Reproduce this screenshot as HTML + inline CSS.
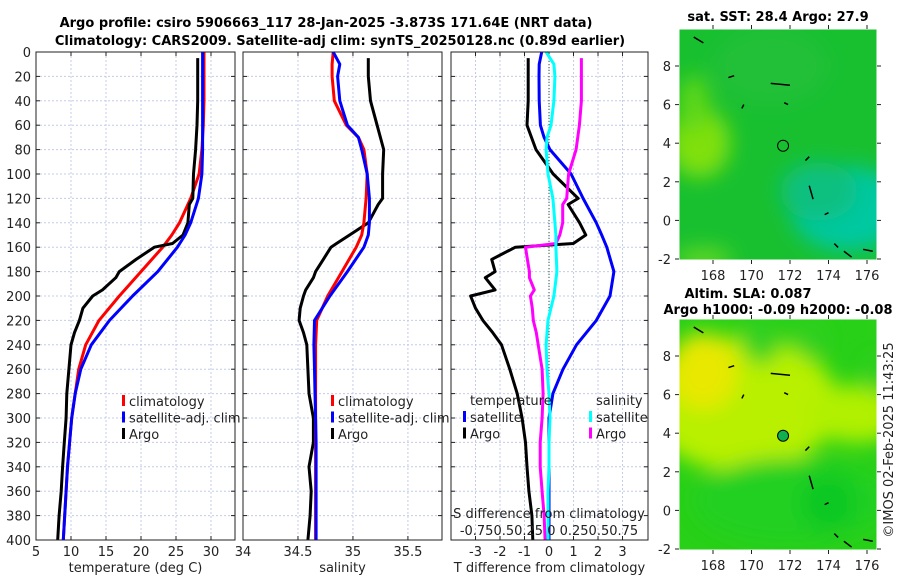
<!DOCTYPE html>
<html><head><meta charset="utf-8"><style>
html,body{margin:0;padding:0;background:#fff;}
svg{display:block;font-family:"DejaVu Sans","Liberation Sans",sans-serif;}
</style></head><body>
<svg id="fig" width="900" height="580" viewBox="0 0 900 580" xmlns="http://www.w3.org/2000/svg">
<defs>
<filter id="blur" x="-50%" y="-50%" width="200%" height="200%"><feGaussianBlur stdDeviation="10"/></filter>
<clipPath id="m1clip"><rect x="679" y="29" width="198" height="231"/></clipPath>
<clipPath id="m2clip"><rect x="679" y="319" width="198" height="231"/></clipPath>
</defs>
<g font-weight="bold" font-size="13" text-anchor="middle" fill="#000">
<text x="326" y="27">Argo profile: csiro 5906663_117 28-Jan-2025 -3.873S 171.64E (NRT data)</text>
<text x="340" y="45">Climatology: CARS2009. Satellite-adj clim: synTS_20250128.nc (0.89d earlier)</text>
</g>
<g id="panels"></g>
<g id="maps"></g>
<text transform="translate(893,440) rotate(-90)" text-anchor="middle" font-size="13" fill="#222">©IMOS 02-Feb-2025 11:43:25</text>
</svg>
<script>
// ---------- data ----------
const depthLevels=[0,10,20,40,60,70,80,100,120,140,150,160,180,200,220,240,260,280,300,320,340,360,380,400];
const tempClim=[29.0,29.0,29.0,29.0,28.9,28.8,28.7,28.3,27.1,25.5,24.4,23.1,20.0,16.9,14.0,12.1,11.1,10.6,10.1,9.8,9.5,9.3,9.1,8.9];
const tempSat=[28.8,28.8,28.8,28.8,28.8,28.8,28.8,28.7,28.2,27.1,26.3,25.2,22.4,18.8,15.5,12.9,11.4,10.6,10.1,9.8,9.5,9.3,9.1,8.9];
const argoDepth=[5,20,40,60,80,100,120,125,140,150,157,160,170,180,185,195,200,210,220,230,240,260,280,300,320,340,360,380,400];
const tempArgo=[28.1,28.1,28.1,28.0,27.8,27.5,27.4,26.9,26.7,26.0,24.5,21.9,19.3,16.9,16.4,14.5,13.1,11.7,11.2,10.5,10.0,9.7,9.4,9.3,9.05,8.8,8.6,8.3,8.1];
const salClim=[34.82,34.81,34.81,34.83,34.94,35.05,35.10,35.13,35.12,35.10,35.08,35.03,34.90,34.77,34.67,34.66,34.66,34.66,34.66,34.66,34.66,34.66,34.66,34.66];
const salSat=[34.82,34.88,34.86,34.88,34.95,35.05,35.08,35.13,35.15,35.15,35.14,35.10,34.95,34.79,34.65,34.645,34.65,34.655,34.66,34.665,34.665,34.665,34.665,34.665];
const salArgo=[35.14,35.14,35.16,35.22,35.28,35.27,35.27,35.23,35.14,34.97,34.85,34.80,34.73,34.66,34.64,34.57,34.55,34.52,34.51,34.55,34.58,34.59,34.60,34.64,34.64,34.60,34.62,34.61,34.59];
const dTempSat=[-0.3,-0.4,-0.41,-0.4,-0.35,-0.2,0.04,0.9,1.39,1.93,2.15,2.36,2.65,2.49,1.93,1.12,0.57,0.16,0.0,0.0,0.0,0.0,0.0,0.0];
const dTempArgo=[-0.85,-0.85,-0.85,-0.9,-0.53,0.17,1.19,0.78,1.25,1.5,0.99,-1.37,-2.34,-2.2,-2.6,-2.2,-3.2,-3.0,-2.7,-2.3,-1.94,-1.6,-1.3,-1.1,-0.96,-0.9,-0.82,-0.7,-0.66];
const dSalSat=[-0.03,0.05,0.06,0.05,0.02,-0.02,-0.03,-0.01,0.04,0.06,0.07,0.07,0.08,0.05,-0.01,-0.03,-0.02,0.0,0.01,0.0,0.0,-0.01,-0.01,-0.01];
const dSalArgo=[0.33,0.33,0.33,0.31,0.276,0.2,0.18,0.14,0.14,0.11,0.07,-0.24,-0.22,-0.2,-0.2,-0.15,-0.19,-0.17,-0.16,-0.13,-0.11,-0.07,-0.06,-0.07,-0.09,-0.09,-0.07,-0.05,-0.04];
const depthTicks=[0,20,40,60,80,100,120,140,160,180,200,220,240,260,280,300,320,340,360,380,400];
const tempTicks=[5,10,15,20,25,30];
const salTicks=[34,34.5,35,35.5];
const dTempTicks=[-3,-2,-1,0,1,2,3];
const lonTicks=[168,170,172,174,176];
const latTicks=[8,6,4,2,0,-2];

const NS='http://www.w3.org/2000/svg';
function mk(tag,attrs,parent){const e=document.createElementNS(NS,tag);for(const k in attrs)e.setAttribute(k,attrs[k]);if(parent)parent.appendChild(e);return e;}
const Y0=52,Y1=540;
function yD(d){return Y0+(d/400)*(Y1-Y0);}
const panelsG=document.getElementById('panels');

function makePanel(name,x0,x1,vmin,vmax,ticks,labelFmt,xlabel,showY){
  const g=mk('g',{},panelsG);
  
  
  const sx=v=>x0+(v-vmin)/(vmax-vmin)*(x1-x0);
  // grid
  depthTicks.forEach(d=>{if(d>0&&d<400){const l=mk('line',{x1:x0,x2:x1,y1:yD(d),y2:yD(d),stroke:'#c4cbe8','stroke-width':1,'stroke-dasharray':'2,2'},g);
    }});
  ticks.forEach(v=>{const x=sx(v);if(x>x0+1&&x<x1-1){const l=mk('line',{x1:x,x2:x,y1:Y0,y2:Y1,stroke:'#c4cbe8','stroke-width':1,'stroke-dasharray':'2,2'},g);
    }});
  // ticks
  depthTicks.forEach(d=>{mk('line',{x1:x0,x2:x0+4,y1:yD(d),y2:yD(d),stroke:'#222'},g);mk('line',{x1:x1-4,x2:x1,y1:yD(d),y2:yD(d),stroke:'#222'},g);
    if(showY){const t=mk('text',{x:x0-5,y:yD(d)+5,'text-anchor':'end','font-size':13,fill:'#222'},g);t.textContent=d;
      }});
  ticks.forEach(v=>{const x=sx(v);mk('line',{x1:x,x2:x,y1:Y1,y2:Y1-4,stroke:'#222'},g);mk('line',{x1:x,x2:x,y1:Y0,y2:Y0+4,stroke:'#222'},g);
    const t=mk('text',{x:x,y:Y1+16,'text-anchor':'middle','font-size':13,fill:'#222'},g);t.textContent=labelFmt(v);
    });
  const xl=mk('text',{x:(x0+x1)/2,y:Y1+32,'text-anchor':'middle','font-size':13,fill:'#222'},g);xl.textContent=xlabel;
  
  return {g,sx};
}
function line(g,sx,vals,depths,color,name,w){
  const p=mk('polyline',{points:vals.map((v,i)=>sx(v).toFixed(1)+','+yD(depths[i]).toFixed(1)).join(' '),fill:'none',stroke:color,'stroke-width':w||3,'stroke-linejoin':'round'},g);
  
}
function frame(g,x0,x1){const r=mk('rect',{x:x0,y:Y0,width:x1-x0,height:Y1-Y0,fill:'none',stroke:'#222','stroke-width':1},g);
  }
function legend(g,x,y,items){
  items.forEach((it,i)=>{const yy=y+i*16.5;
    mk('rect',{x:x,y:yy-11,width:3,height:11,fill:it[1]},g);
    const t=mk('text',{x:x+7,y:yy,'font-size':13,fill:'#222'},g);t.textContent=it[0];
    });
}
// Panel 1
const P1=makePanel('temperature-panel',36,235,5,33.43,tempTicks,v=>v,'temperature (deg C)',true);
line(P1.g,P1.sx,tempClim,depthLevels,'#f00','climatology-temp-line');
line(P1.g,P1.sx,tempArgo,argoDepth,'#000','argo-temp-line');
line(P1.g,P1.sx,tempSat,depthLevels,'#00f','satellite-temp-line');
legend(P1.g,122,406,[['climatology','#f00'],['satellite-adj. clim','#00f'],['Argo','#000']]);
frame(P1.g,36,235);
// Panel 2
const P2=makePanel('salinity-panel',243,442,34,35.81,salTicks,v=>v,'salinity',false);
line(P2.g,P2.sx,salArgo,argoDepth,'#000','argo-sal-line');
line(P2.g,P2.sx,salClim,depthLevels,'#f00','climatology-sal-line');
line(P2.g,P2.sx,salSat,depthLevels,'#00f','satellite-sal-line');
legend(P2.g,331,406,[['climatology','#f00'],['satellite-adj. clim','#00f'],['Argo','#000']]);
frame(P2.g,243,442);
// Panel 3
const P3=makePanel('difference-panel',451,648,-4,4.04,dTempTicks,v=>v,'T difference from climatology',false);
const sxS=v=>P3.sx(v*4);
const z=mk('line',{x1:P3.sx(0),x2:P3.sx(0),y1:Y0,y2:Y1,stroke:'#335533','stroke-width':1,'stroke-dasharray':'1,2'},P3.g);

line(P3.g,P3.sx,dTempArgo,argoDepth,'#000','argo-temp-diff-line');
line(P3.g,P3.sx,dTempSat,depthLevels,'#00f','satellite-temp-diff-line');
line(P3.g,sxS,dSalArgo,argoDepth,'#f0f','argo-sal-diff-line');
line(P3.g,sxS,dSalSat,depthLevels,'#0ff','satellite-sal-diff-line');
(function(){const g=P3.g;
  const a=mk('text',{x:470,y:405,'font-size':13,fill:'#222'},g);a.textContent='temperature';
  
  const b=mk('text',{x:596,y:405,'font-size':13,fill:'#222'},g);b.textContent='salinity';
  
  legend(g,463,422,[['satellite','#00f'],['Argo','#000']]);
  legend(g,589,422,[['satellite','#0ff'],['Argo','#f0f']]);
  const s=mk('text',{x:549,y:518,'font-size':13,'text-anchor':'middle',fill:'#222'},g);s.textContent='S difference from climatology';
  
  const s2=mk('text',{x:549,y:535,'font-size':13,'text-anchor':'middle',fill:'#222'},g);s2.textContent='-0.750.50.25 0  0.250.50.75';
  
})();
frame(P3.g,451,648);

// ---------- maps ----------
const mapsG=document.getElementById('maps');
function makeMap(name,top,title1,title2,base,blobs,filledDot){
  const g=mk('g',{},mapsG);
  
  const x0=679,x1=877,y1=top+231;
  const lx=lon=>713+(lon-168)*19.25;
  const ly=lat=>(top+37)+(8-lat)*19.3;
  const cg=mk('g',{'clip-path':'url(#'+(top<100?'m1clip':'m2clip')+')'},g);
  mk('rect',{x:x0,y:top,width:198,height:231,fill:base},cg);
  const bg=mk('g',{filter:'url(#blur)'},cg);
  blobs.forEach(b=>mk('ellipse',{cx:lx(b[0]),cy:ly(b[1]),rx:b[2]*19.25,ry:b[3]*19.3,fill:b[4]},bg));
  // coastline fragments
  const coast=[[171,7.1,172,7.0],[173,3.3,172.8,3.1],[173,1.8,173.2,1.1],[173.8,0.3,174,0.4],[174.3,-1.2,174.5,-1.4],[174.8,-1.6,175.2,-1.9],[175.8,-1.5,176.3,-1.6],[168.8,7.4,169.1,7.5],[169.6,6.0,169.5,5.8],[171.7,6.1,171.9,6.0],[167,9.5,167.5,9.2]];
  coast.forEach(c=>mk('line',{x1:lx(c[0]),y1:ly(c[1]),x2:lx(c[2]),y2:ly(c[3]),stroke:'#000','stroke-width':1.5},cg));
  const dot=mk('circle',{cx:lx(171.64),cy:ly(3.87),r:5.5,fill:filledDot?'#10b050':'none',stroke:'#000','stroke-width':1},g);
  
  mk('rect',{x:x0,y:top,width:198,height:231,fill:'none',stroke:'#fff','stroke-width':1},g);
  latTicks.forEach(l=>{const y=ly(l);mk('line',{x1:x0-4,x2:x0,y1:y,y2:y,stroke:'#222'},g);mk('line',{x1:x1,x2:x1+4,y1:y,y2:y,stroke:'#222'},g);
    const t=mk('text',{x:x0-8,y:y+5,'text-anchor':'end','font-size':13,fill:'#222'},g);t.textContent=l;
    });
  lonTicks.forEach(l=>{const x=lx(l);mk('line',{x1:x,x2:x,y1:y1,y2:y1+4,stroke:'#222'},g);mk('line',{x1:x,x2:x,y1:top-4,y2:top,stroke:'#222'},g);
    const t=mk('text',{x:x,y:y1+20,'text-anchor':'middle','font-size':13,fill:'#222'},g);t.textContent=l;
    });
  title1.forEach(tt=>{const t=mk('text',{x:tt[1],y:tt[2],'text-anchor':'middle','font-size':13,'font-weight':'bold',fill:'#000'},g);t.textContent=tt[0];
    });
}
makeMap('sst-map',29,[['sat. SST: 28.4 Argo: 27.9',778,21]],null,'#18c030',
  [[167.3,4,1.6,1.8,'#80e010'],[167,6,0.8,1.5,'#60d818'],[175,0.6,3,2.2,'#00c8a0'],[173.5,1.5,2,1.5,'#10c080'],[167.5,-2,1.5,0.6,'#60d820'],[171,8,3,2,'#20c038']],false);
makeMap('sla-map',319,[['Altim. SLA: 0.087',748,298],['Argo h1000: -0.09 h2000: -0.08',778,314]],null,'#28d018',
  [[169.5,5.5,5,3.5,'#b8f000'],[167.5,7.2,1.8,2,'#e8e800'],[175.5,5,2.5,1.5,'#b0f000'],[170.5,8.8,1,1.2,'#30d020'],[173,8.8,0.8,1,'#30d020'],[176.5,7,0.6,1,'#30d020'],[172,0.5,5,2.2,'#20d020'],[174,0.4,1.5,1.5,'#10c820']],true);
</script>
</body></html>
